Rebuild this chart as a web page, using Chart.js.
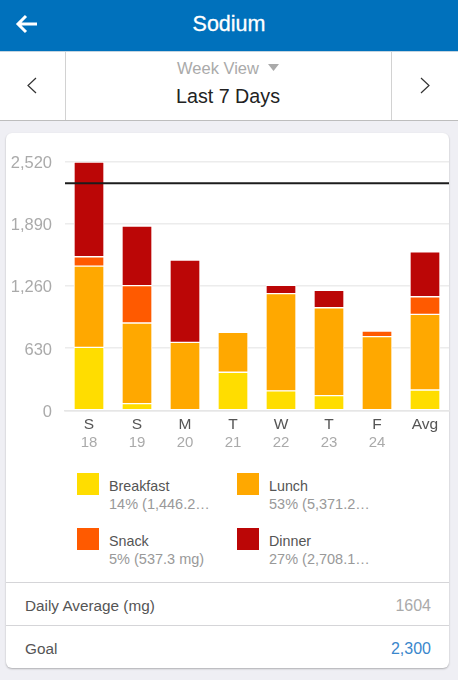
<!DOCTYPE html>
<html>
<head>
<meta charset="utf-8">
<title>Sodium</title>
<script src="https://cdn.jsdelivr.net/npm/chart.js@4"></script>
<style>
html, body { margin: 0; padding: 0; width: 458px; height: 680px; overflow: hidden; background: #efeff4; font-family: "Liberation Sans", sans-serif; }
.abs { position: absolute; white-space: nowrap; line-height: 20px; }
#header { position: absolute; left: 0; top: 0; width: 458px; height: 51px; background: #0071bc; }
#nav { position: absolute; left: 0; top: 51px; width: 458px; height: 68px; background: #fff; border-top: 1px solid #c4d4e0; border-bottom: 1px solid #bdbdbd; }
.vline { position: absolute; top: 52px; width: 1px; height: 68px; background: #d2d2d2; }
#card { position: absolute; left: 6px; top: 133px; width: 443px; height: 535px; background: #fff; border-radius: 6px; box-shadow: 0 1px 2px rgba(0,0,0,0.28); }
#chart { position: absolute; left: 0; top: 138px; }
.rule { position: absolute; left: 6px; width: 443px; height: 1px; background: #d5d5d8; }
.swatch { position: absolute; width: 22px; height: 22px; }
.name { color: #555; font-size: 14.3px; }
.sub { color: #999; font-size: 14.5px; }
</style>
</head>
<body>
<div id="header"></div>
<div class="abs" style="left:0;width:458px;top:14px;text-align:center;color:#fff;font-size:21.5px;-webkit-text-stroke:0.3px #fff;">Sodium</div>
<svg class="abs" style="left:15px;top:13px" width="24" height="22"><path d="M3 11H22M11 3L3 11L11 19" fill="none" stroke="#fff" stroke-width="3"/></svg>
<div id="nav"></div>
<div class="vline" style="left:65px"></div>
<div class="vline" style="left:391px"></div>
<div class="abs" style="left:177px;top:58px;color:#aaa;font-size:16.5px;">Week View</div>
<svg class="abs" style="left:267px;top:64px" width="13" height="8"><path d="M1 0H12L6.500 7Z" fill="#aaa"/></svg>
<div class="abs" style="left:0;width:456px;top:86px;text-align:center;color:#222;font-size:19.7px;">Last 7 Days</div>
<svg class="abs" style="left:26px;top:77px" width="12" height="17"><path d="M10 1L2 8.500L10 16" fill="none" stroke="#333" stroke-width="1.200"/></svg>
<svg class="abs" style="left:419px;top:77px" width="12" height="17"><path d="M2 1L10 8.500L2 16" fill="none" stroke="#333" stroke-width="1.200"/></svg>
<div id="card"></div>
<canvas id="chart" width="458" height="320"></canvas>
<div id="legend"></div>
<div class="rule" style="top:582px"></div>
<div class="rule" style="top:625px"></div>
<div class="abs" style="left:25px;top:596px;color:#555;font-size:15.3px;">Daily Average (mg)</div>
<div class="abs" style="right:27px;top:596px;color:#aaa;font-size:16px;">1604</div>
<div class="abs" style="left:25px;top:639px;color:#555;font-size:15.3px;">Goal</div>
<div class="abs" style="right:27px;top:639px;color:#3a87cc;font-size:16px;">2,300</div>
<script>
const days = ['S', 'S', 'M', 'T', 'W', 'T', 'F', 'Avg'];
const dates = ['18', '19', '20', '21', '22', '23', '24', ''];
const breakfast = [638, 68, 0, 385, 196, 148, 0, 206];
const lunch = [823, 816, 688, 404, 985, 891, 746, 766];
const snack = [94, 378, 0, 0, 0, 0, 57, 178];
const dinner = [958, 604, 834, 0, 84, 175, 0, 454];
const yTicks = [0, 630, 1260, 1890, 2520];
const goal = 2300;
const legendNames = ['Breakfast', 'Lunch', 'Snack', 'Dinner'];
const legendNotes = ['14% (1,446.2…', '53% (5,371.2…', '5% (537.3 mg)', '27% (2,708.1…'];
const legendColors = ['#ffdd00', '#ffa800', '#ff5a00', '#bb0606'];

// legend sits under the chart in two columns
legendNames.forEach((name, i) => {
    const x = i % 2 === 0 ? 77 : 237;
    const y = i < 2 ? 473 : 528;
    document.getElementById('legend').insertAdjacentHTML('beforeend',
        '<div class="swatch" style="left:' + x + 'px;top:' + y + 'px;background:' + legendColors[i] + '"></div>' +
        '<div class="abs name" style="left:' + (x + 32) + 'px;top:' + (y + 3) + 'px">' + name + '</div>' +
        '<div class="abs sub" style="left:' + (x + 32) + 'px;top:' + (y + 21) + 'px">' + legendNotes[i] + '</div>');
});

function barSet(label, data, color) {
    return {
        label: label,
        data: data,
        backgroundColor: color,
        borderColor: '#fff',
        borderWidth: 1,
        borderSkipped: false,
        barThickness: 30
    };
}

// goal line runs across the whole plot, over the bars
const goalLine = {
    id: 'goalLine',
    afterDatasetsDraw(chart) {
        const y = chart.scales.y.getPixelForValue(goal);
        const ctx = chart.ctx;
        ctx.save();
        ctx.strokeStyle = '#1c1c1c';
        ctx.lineWidth = 2;
        ctx.beginPath();
        ctx.moveTo(chart.chartArea.left, y);
        ctx.lineTo(chart.chartArea.right, y);
        ctx.stroke();
        ctx.restore();
    }
};

new Chart(document.getElementById('chart').getContext('2d'), {
    type: 'bar',
    data: {
        labels: days,
        datasets: [
            barSet(legendNames[0], breakfast, legendColors[0]),
            barSet(legendNames[1], lunch, legendColors[1]),
            barSet(legendNames[2], snack, legendColors[2]),
            barSet(legendNames[3], dinner, legendColors[3])
        ]
    },
    options: {
        responsive: false,
        animation: false,
        layout: { padding: { top: 23.5, right: 9, left: 0, bottom: 0 } },
        plugins: { legend: { display: false }, tooltip: { enabled: false } },
        scales: {
            x: {
                stacked: true,
                weight: 1,
                grid: { display: false, drawTicks: false },
                border: { display: true, color: '#e6e6e6', width: 1.5 },
                ticks: { color: '#555', padding: 5, maxRotation: 0, autoSkip: false, font: { family: 'Liberation Sans', size: 15.5 } },
                afterFit(scale) { scale.height = 22; }
            },
            x2: {
                type: 'category',
                position: 'bottom',
                labels: dates,
                weight: 2,
                grid: { display: false, drawTicks: false },
                border: { display: false },
                ticks: { color: '#aaa', padding: 2, maxRotation: 0, autoSkip: false, font: { family: 'Liberation Sans', size: 15 } },
                afterFit(scale) { scale.height = 25.7; }
            },
            y: {
                stacked: true,
                min: 0,
                max: 2520,
                grid: { color: '#ececec', lineWidth: 1.5, drawTicks: false },
                border: { display: false },
                ticks: {
                    color: '#aaa',
                    padding: 13,
                    font: { family: 'Liberation Sans', size: 16.5, lineHeight: 0.24 },
                    // empty first line nudges the number a bit below its gridline
                    callback: value => ['', value.toLocaleString('en-US')]
                },
                afterBuildTicks(scale) { scale.ticks = yTicks.map(value => ({ value: value })); },
                afterFit(scale) { scale.width = 65; }
            }
        }
    },
    plugins: [goalLine]
});
</script>
</body>
</html>
